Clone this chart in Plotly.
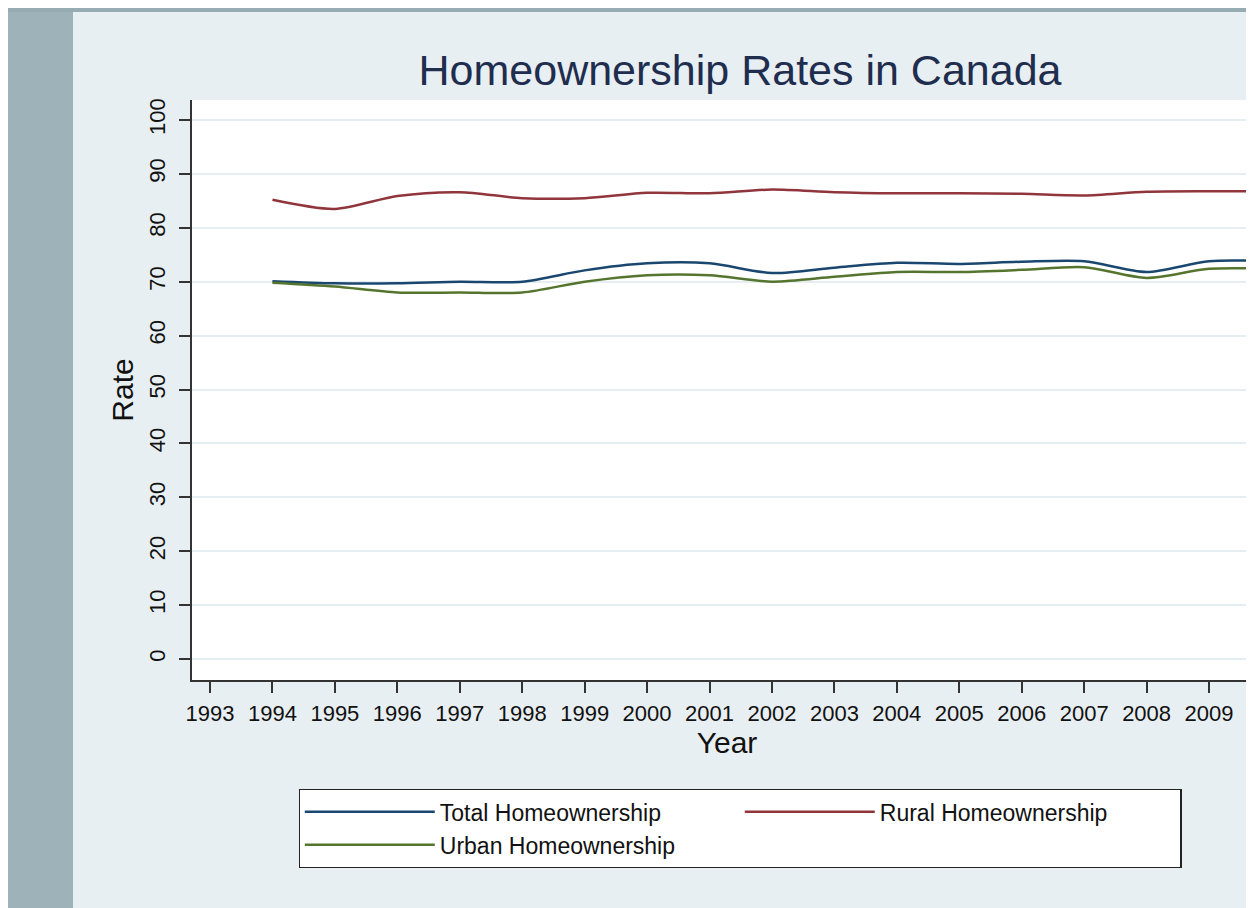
import plotly.graph_objects as go

years = [1994, 1995, 1996, 1997, 1998, 1999, 2000, 2001, 2002, 2003, 2004, 2005, 2006, 2007, 2008, 2009, 2010]
total = [70.1, 69.7, 69.7, 70.0, 70.0, 72.1, 73.4, 73.4, 71.6, 72.6, 73.5, 73.3, 73.7, 73.8, 71.8, 73.8, 73.8]
rural = [85.2, 83.5, 85.9, 86.6, 85.5, 85.5, 86.5, 86.4, 87.1, 86.6, 86.4, 86.4, 86.3, 86.0, 86.7, 86.8, 86.8]
urban = [69.8, 69.1, 68.0, 68.0, 68.0, 70.0, 71.2, 71.2, 70.0, 70.9, 71.8, 71.8, 72.2, 72.7, 70.7, 72.4, 72.4]

x_ticks = list(range(1993, 2011))
y_ticks = list(range(0, 101, 10))

series = [
    ("Total Homeownership", total, "#1a476f"),
    ("Rural Homeownership", rural, "#90353b"),
    ("Urban Homeownership", urban, "#55752f"),
]

FONT = "Arial, Liberation Sans, sans-serif"
OFF = 8  # page body margin

W, H = 1254, 908
L = 192 - OFF
T = 100 - OFF
B_PIX = 680 - OFF
PW = W - L
PH = B_PIX - T
PX_PER_YEAR = 62.44
PX_PER_UNIT = 5.39

def px(xs):
    return (xs - OFF - L) / PW

def py(ys):
    return (B_PIX - (ys - OFF)) / PH

fig = go.Figure()
for name, vals, col in series:
    fig.add_trace(go.Scatter(
        x=years, y=vals, name=name, mode="lines",
        line=dict(color=col, width=2.5, shape="spline", smoothing=0.8),
    ))

fig.update_layout(
    width=W, height=H,
    margin=dict(l=L, r=0, t=T, b=H - B_PIX),
    paper_bgcolor="#e8eff2",
    plot_bgcolor="#ffffff",
    font=dict(family=FONT, color="#111111"),
    title=dict(
        text="Homeownership Rates in Canada",
        x=(740 - OFF) / W, xanchor="center", xref="container",
        y=1 - (70 - OFF) / H, yanchor="middle", yref="container",
        font=dict(size=43, color="#1f2d4e", family=FONT),
    ),
    showlegend=True,
    legend=dict(
        orientation="h",
        x=px(740), xanchor="center",
        y=py(789), yanchor="top",
        bgcolor="#ffffff", bordercolor="#222222", borderwidth=1.3,
        font=dict(size=23, color="#111111", family=FONT),
        entrywidth=295, entrywidthmode="pixels",
        itemwidth=130,
        traceorder="normal",
    ),
    shapes=[
        dict(type="rect", xref="paper", yref="paper",
             x0=-1, x1=px(73), y0=-1, y1=2,
             fillcolor="#9db3b9", line=dict(width=0), layer="below"),
        dict(type="rect", xref="paper", yref="paper",
             x0=-1, x1=2, y0=py(12), y1=2,
             fillcolor="#97acb2", line=dict(width=0), layer="below"),
    ],
)

fig.update_xaxes(
    range=[1993 - (210 - 192) / PX_PER_YEAR, 1993 - (210 - 192) / PX_PER_YEAR + PW / PX_PER_YEAR],
    tickmode="array", tickvals=x_ticks, ticktext=[str(v) for v in x_ticks],
    ticks="outside", ticklen=11, tickwidth=1.5, tickcolor="#333333",
    showline=True, linecolor="#333333", linewidth=1.5,
    showgrid=False, zeroline=False,
    tickfont=dict(size=22, color="#111111", family=FONT),
    ticklabelstandoff=2,
    title=dict(text="Year", font=dict(size=30, color="#111111", family=FONT), standoff=0),
)
fig.update_yaxes(
    range=[(659 - 680) / PX_PER_UNIT, (659 - 100) / PX_PER_UNIT],
    tickmode="array", tickvals=y_ticks, ticktext=[str(v) for v in y_ticks],
    tickangle=-90,
    ticks="outside", ticklen=11, tickwidth=1.5, tickcolor="#333333",
    showline=True, linecolor="#333333", linewidth=1.5,
    showgrid=True, gridcolor="#e6eef1", gridwidth=2, zeroline=False,
    tickfont=dict(size=22, color="#111111", family=FONT),
    ticklabelstandoff=5,
    title=dict(text="Rate", font=dict(size=30, color="#111111", family=FONT), standoff=3),
)

fig.write_html("out.html")
